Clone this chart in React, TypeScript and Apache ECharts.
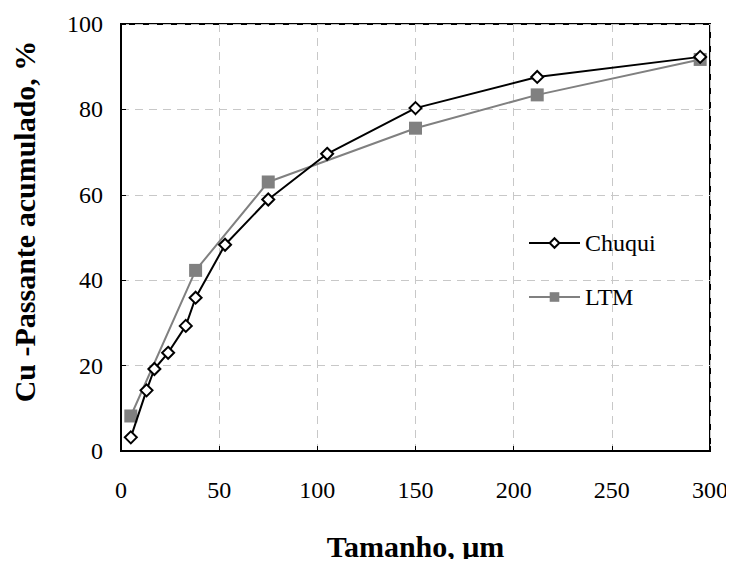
import React, { useEffect, useRef } from "react";
import * as echarts from "echarts";

const chuquiX = [5, 13, 17, 24, 33, 38, 53, 75, 105, 150, 212, 295];
const chuquiY = [3.2, 14.2, 19.2, 23, 29.3, 35.9, 48.3, 58.9, 69.6, 80.3, 87.6, 92.3];
const ltmX = [5, 38, 75, 150, 212, 295];
const ltmY = [8.2, 42.3, 63, 75.6, 83.4, 91.7];
const xTicks = [0, 50, 100, 150, 200, 250, 300];
const yTicks = [0, 20, 40, 60, 80, 100];

export default function App() {
  const ref = useRef<HTMLDivElement>(null);
  useEffect(() => {
    const chart = echarts.init(ref.current!, null, { renderer: "svg" });
    const font = "'Liberation Serif', 'Times New Roman', serif";
    chart.setOption({
      animation: false,
      textStyle: { fontFamily: font },
      grid: {
        left: 121,
        right: 24,
        top: 24,
        bottom: 116,
        show: true,
        borderColor: "#000",
        borderWidth: 2,
        containLabel: false,
      },
      legend: {
        orient: "vertical",
        left: 523,
        top: 226,
        itemGap: 30,
        itemWidth: 51,
        itemHeight: 12,
        textStyle: { fontFamily: font, fontSize: 24, color: "#000" },
        data: ["Chuqui", "LTM"],
      },
      xAxis: {
        type: "value",
        min: xTicks[0],
        max: xTicks[xTicks.length - 1],
        interval: 50,
        name: "Tamanho, μm",
        nameLocation: "middle",
        nameGap: 80,
        nameTextStyle: { fontFamily: font, fontSize: 30, fontWeight: "bold", color: "#000" },
        axisLine: { show: true, lineStyle: { color: "#000", width: 2 } },
        axisTick: { show: true, inside: true, length: 5, lineStyle: { color: "#000" } },
        axisLabel: { fontFamily: font, fontSize: 24, color: "#000", margin: 27 },
        splitLine: { show: true, lineStyle: { color: "#c8c8c8", type: [8, 6], width: 1 } },
      },
      yAxis: {
        type: "value",
        min: yTicks[0],
        max: yTicks[yTicks.length - 1],
        interval: 20,
        name: "Cu -Passante acumulado, %",
        nameLocation: "middle",
        nameGap: 82,
        nameTextStyle: {
          fontFamily: font,
          fontSize: 30,
          fontWeight: "bold",
          color: "#000",
          padding: [0, 0, 0, 32],
        },
        axisLine: { show: true, lineStyle: { color: "#000", width: 2 } },
        axisTick: { show: true, inside: true, length: 5, lineStyle: { color: "#000" } },
        axisLabel: { fontFamily: font, fontSize: 24, color: "#000", margin: 18 },
        splitLine: { show: true, lineStyle: { color: "#c8c8c8", type: [8, 6], width: 1 } },
      },
      series: [
        {
          name: "LTM",
          type: "line",
          data: ltmX.map((x, i) => [x, ltmY[i]]),
          symbol: "rect",
          symbolSize: 13,
          itemStyle: { color: "#808080" },
          lineStyle: { color: "#808080", width: 2 },
          z: 2,
        },
        {
          name: "Chuqui",
          type: "line",
          data: chuquiX.map((x, i) => [x, chuquiY[i]]),
          symbol: "diamond",
          symbolSize: 12,
          showAllSymbol: true,
          itemStyle: { color: "#fff", borderColor: "#000", borderWidth: 2 },
          lineStyle: { color: "#000", width: 2 },
          z: 3,
        },
      ],
    });
    return () => chart.dispose();
  }, []);
  return <div ref={ref} style={{ width: 734, height: 567, margin: -8 }} />;
}
